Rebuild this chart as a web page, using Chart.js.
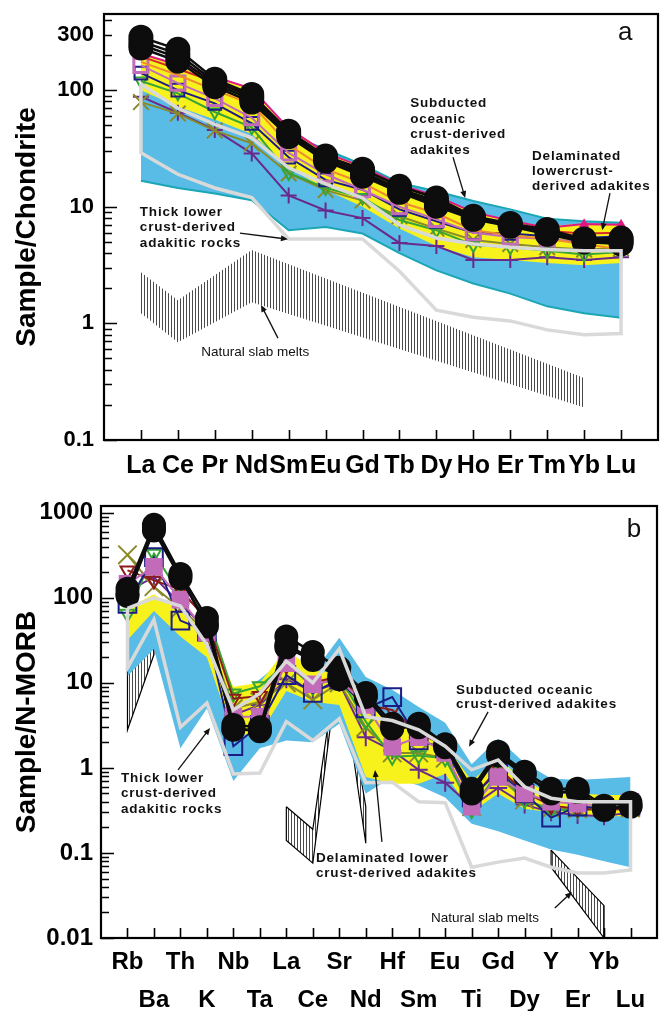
<!DOCTYPE html>
<html>
<head>
<meta charset="utf-8">
<title>REE and trace element diagrams</title>
<script src="https://cdn.jsdelivr.net/npm/chart.js@4.4.1/dist/chart.umd.min.js"></script>
<style>
  html, body { margin: 0; padding: 0; background: #fff; }
  #wrap { position: relative; width: 662px; height: 1011px; overflow: hidden; }
  canvas { position: absolute; left: 0; }
  #chartA { top: 0; }
  #chartB { top: 490px; }
</style>
</head>
<body>
<div id="wrap">
  <canvas id="chartA" width="662" height="490"></canvas>
  <canvas id="chartB" width="662" height="521"></canvas>
</div>
<script>
// ---------- Panel a: chondrite-normalised REE patterns ----------
const reeElements = ['La','Ce','Pr','Nd','Sm','Eu','Gd','Tb','Dy','Ho','Er','Tm','Yb','Lu'];
const reeTickValues = [0.1, 1, 10, 100, 300];
const reeTickLabels = ['0.1', '1', '10', '100', '300'];

// reference fields
const reeOceanicTop    = [105, 85, 70, 58, 42, 31, 23, 16, 13.6, 11.2, 9.5, 7.9, 7.5, 7.3];
const reeOceanicBottom = [16.7, 14.5, 13, 11.4, 6.3, 6.7, 5.9, 4.0, 2.85, 2.2, 1.8, 1.4, 1.22, 1.12];
const reeDelamTop      = [210, 165, 130, 100, 46, 29, 22, 15.5, 12.3, 9, 7.6, 6.8, 7.2, 7.0];
const reeDelamBottom   = [100, 72, 56, 42, 22, 14, 10, 6.5, 4.6, 3.7, 3.5, 3.3, 3.15, 3.3];
const reeThickTop      = [113, 70, 51, 39, 21.6, 15.7, 11.9, 7.0, 5.4, 4.8, 4.5, 4.3, 4.2, 4.2];
const reeThickBottom   = [29, 19, 14.5, 12, 5.3, 5.3, 5.3, 2.8, 1.3, 1.13, 1.05, 0.88, 0.8, 0.82];
const reeSlabAt        = ['La', 'Ce', 'Nd', 'Yb'];
const reeSlabTop       = [2.75, 1.58, 4.25, 0.34];
const reeSlabBottom    = [1.22, 0.69, 1.52, 0.19];

// samples
const reeBlack1  = [285, 224, 124, 92, 44.5, 27.2, 21, 15, 11.9, 8.3, 7.2, 6.4, 5.3, 5.4];
const reeBlack2  = [262, 205, 118, 88, 43, 26, 20, 14.2, 11.2, 8.1, 7.0, 6.1, 5.2, 5.2];
const reeBlack3  = [245, 190, 112, 84, 41.5, 25.4, 19, 13.8, 10.6, 7.9, 6.9, 5.9, 5.1, 5.0];
const reeBlack4  = [230, 177, 107, 79, 40, 24.6, 18.3, 13.3, 10.1, 7.8, 6.8, 5.8, 5.0, 4.8];
const reeMagenta = [205, 165, 130, 103, 47, 29, 22, 15.5, 12.3, 9, 7.6, 6.6, 7.1, 7.0];
const reeRed     = [195, 152, 118, 92, 41, 26, 20, 14, 11, 8.2, 6.9, 6.2, 5.9, 6.0];
const reeOrange  = [175, 135, 100, 76, 34, 21, 16, 11, 8.8, 6.3, 5.7, 5.3, 4.8, 4.3];
const reeOrchid  = [163, 115, 85, 58, 29, 19, 14, 10, 7.8, 6.0, 5.5, 5.3, 5.0, 5.2];
const reeNavy    = [140, 100, 77, 52, 26.6, 17, 14, 9.5, 7.5, 6.0, 5.9, 5.6, 5.4, 5.6];
const reeGreen   = [120, 94, 65, 48, 19.5, 14.5, 12, 7.7, 6.3, 4.7, 4.5, 4.2, 3.9, 4.1];
const reeOlive   = [79, 63, 45, 35, 19.3, 13.9, 11.3, 8.3, 6.5, 5.2, 4.8, 4.5, 4.3, 4.4];
const reePurple  = [88, 64, 45.6, 28.7, 12.5, 9.3, 8.0, 4.9, 4.6, 3.5, 3.5, 3.7, 3.5, 3.7];

// ---------- Panel b: N-MORB-normalised trace element patterns ----------
const spElements = ['Rb','Ba','Th','K','Nb','Ta','La','Ce','Sr','Nd','Hf','Sm','Eu','Ti','Gd','Dy','Y','Er','Yb','Lu'];
const spTickValues = [0.01, 0.1, 1, 10, 100, 1000];
const spTickLabels = ['0.01', '0.1', '1', '10', '100', '1000'];

const spOceanicTop    = [40, 90, 45, 22, 7, 11, 20, 13, 34, 11.7, 8.3, 5.2, 3.4, 1.1, 2.2, 1.14, 0.75, 0.72, 0.75, 0.78];
const spOceanicBottom = [12, 25, 1.7, 5.0, 0.7, 1.7, 2.1, 2.0, 3.3, 0.5, 0.78, 0.62, 0.45, 0.22, 0.18, 0.14, 0.11, 0.095, 0.08, 0.068];
const spDelamTop      = [75, 110, 70, 45, 9, 10, 25, 14, 13, 5.5, 3.5, 2.5, 1.9, 0.7, 1.3, 0.7, 0.5, 0.5, 0.48, 0.48];
const spDelamBottom   = [32, 70, 35, 20, 2.4, 2.5, 8, 6, 5.5, 0.78, 0.65, 0.65, 0.85, 0.3, 0.5, 0.33, 0.3, 0.28, 0.27, 0.27];
const spThickTop      = [75, 100, 80, 28, 4.8, 7.5, 18, 10, 25, 4.0, 3.6, 2.8, 1.8, 0.95, 1.24, 0.6, 0.44, 0.40, 0.40, 0.40];
const spThickBottom   = [15, 55, 3.0, 5.8, 0.85, 0.87, 3.5, 2.1, 3.8, 0.67, 0.68, 0.4, 0.39, 0.068, 0.078, 0.087, 0.068, 0.058, 0.058, 0.063];
const spSlabLeftAt    = ['Rb', 'Ba'];
const spSlabLeftTop   = [17, 47];
const spSlabLeftBot   = [2.8, 21.5];
const spSlabMidAt     = ['La', 'Ce', 'Sr', 'Nd'];
const spSlabMidTop    = [0.35, 0.19, 26, 0.35];
const spSlabMidBot    = [0.14, 0.076, 20, 0.13];
const spSlabRightAt   = ['Y', 'Yb'];
const spSlabRightTop  = [0.108, 0.024];
const spSlabRightBot  = [0.068, 0.01];

const spBlack1  = [128, 720, 190, 58, 3.2, 3.0, 35, 23, 15, 7.6, 3.3, 3.3, 1.9, 0.57, 1.55, 0.9, 0.57, 0.57, 0.36, 0.39];
const spBlack2  = [112, 620, 170, 50, 2.8, 2.8, 28, 19, 12, 6.8, 3.0, 3.0, 1.75, 0.52, 1.4, 0.82, 0.52, 0.52, 0.33, 0.35];
const spBlack3  = [105, 660, 180, 46, 2.9, 2.7, 26, 18.5, 11, 7.0, 2.9, 3.1, 1.8, 0.5, 1.45, 0.85, 0.5, 0.54, 0.32, 0.36];
const spOrchid  = [146, 232, 95, 39, 4.0, 4.0, 17, 9.6, 11, 5.5, 1.77, 2.3, 1.5, 0.35, 0.78, 0.5, 0.4, 0.38, 0.36, 0.4];
const spNavy    = [85, 300, 54, 40, 1.8, 3.2, 12.3, 7.6, 11, 5.0, 6.8, 2.1, 1.7, 0.45, 0.9, 0.5, 0.26, 0.35, 0.34, 0.36];
const spGreen   = [65, 330, 110, 65, 7.5, 9.1, 17, 9, 12, 3.5, 1.35, 1.4, 1.3, 0.32, 0.9, 0.42, 0.32, 0.32, 0.33, 0.35];
const spOlive   = [320, 135, 75, 40, 5, 6, 10, 6.3, 10, 3, 1.5, 1.5, 1.3, 0.35, 0.8, 0.42, 0.33, 0.33, 0.33, 0.34];
const spPurple  = [120, 175, 85, 42, 4.2, 5.5, 11, 8, 10, 2.3, 1.6, 0.95, 0.67, 0.35, 0.58, 0.37, 0.3, 0.28, 0.27, 0.3];
const spDarkRed = [210, 160, 125, 55, 6.5, 7.0, 16, 10, 12, 5.5, 4.8, 2.6, 1.8, 0.42, 1.0, 0.52, 0.36, 0.33, 0.32, 0.33];

// ---------- colours ----------
const BLUE = '#58bce6', TEAL = '#1aa6b4', YELLOW = '#f8f21c', GREY = '#d9d9d9';
const NONE = 'rgba(0,0,0,0)';
const FONT = 'Arial, "Liberation Sans", Helvetica, sans-serif';
Chart.defaults.font.family = FONT;
Chart.defaults.color = '#000';

// ---------- helpers ----------
const pts = vals => vals.map((v, i) => ({ x: i, y: v }));
const ptsAt = (names, list, vals) => names.map((n, j) => ({ x: list.indexOf(n), y: vals[j] }));
const loop = (top, bottom) => [...top, ...bottom.slice().reverse(), top[0]];

function hatchPattern() {
  const c = document.createElement('canvas');
  c.width = 3; c.height = 3;
  const g = c.getContext('2d');
  g.fillStyle = '#ffffff'; g.fillRect(0, 0, 3, 3);
  g.fillStyle = '#4a4a4a'; g.fillRect(0, 0, 1, 3);
  return g.createPattern(c, 'repeat');
}
const HATCH = hatchPattern();

function field(top, bottom, fillColor, edge, edgeWidth, order) {
  return [
    { data: top, fill: '+1', backgroundColor: fillColor, borderColor: edge, borderWidth: edgeWidth, pointRadius: 0, order },
    { data: bottom, fill: false, borderColor: edge, borderWidth: edgeWidth, pointRadius: 0, order: order - 0.5 }
  ];
}
function outline(data, color, width, order) {
  return { data, fill: false, borderColor: color, borderWidth: width, pointRadius: 0, order };
}
function sample(vals, color, style, radius, extra) {
  return Object.assign({
    data: pts(vals), fill: false, borderColor: color, borderWidth: 2,
    pointStyle: style, pointRadius: radius, pointBorderColor: color, pointBorderWidth: 2,
    pointBackgroundColor: NONE, order: 10
  }, extra || {});
}

// frame and inward tick marks
const frameTicks = {
  id: 'frameTicks',
  afterDraw(chart, args, o) {
    const { ctx, chartArea: a, scales: { x, y } } = chart;
    ctx.save();
    ctx.strokeStyle = '#000';
    ctx.lineWidth = 1.6;
    ctx.beginPath();
    for (let i = 0; i < o.count; i++) {
      const px = Math.round(x.getPixelForValue(i)) + 0.5;
      ctx.moveTo(px, a.bottom); ctx.lineTo(px, a.bottom - 10);
    }
    const lo = Math.floor(Math.log10(y.min)), hi = Math.ceil(Math.log10(y.max));
    for (let e = lo; e <= hi; e++) {
      for (let m = 1; m <= 9; m++) {
        const v = m * Math.pow(10, e);
        if (v < y.min * 0.999 || v > y.max) continue;
        const py = Math.round(y.getPixelForValue(v)) + 0.5;
        ctx.moveTo(a.left, py); ctx.lineTo(a.left + (m === 1 ? 13 : 8), py);
      }
    }
    ctx.stroke();
    ctx.lineWidth = 2.2;
    ctx.strokeRect(a.left, a.top, a.right - a.left, a.bottom - a.top);
    ctx.restore();
  }
};

// text labels and arrows placed in data coordinates
const notes = {
  id: 'notes',
  afterDraw(chart, args, o) {
    const { ctx, scales: { x, y } } = chart;
    ctx.save();
    ctx.fillStyle = '#111';
    ctx.textBaseline = 'middle';
    ctx.textAlign = 'left';
    for (const t of o.texts) {
      ctx.font = t.font;
      if ('letterSpacing' in ctx) ctx.letterSpacing = t.spacing || '0px';
      const px = x.getPixelForValue(t.at[0]);
      const py = y.getPixelForValue(t.at[1]);
      t.lines.forEach((s, k) => ctx.fillText(s, px, py + k * (t.gap || 0)));
    }
    if ('letterSpacing' in ctx) ctx.letterSpacing = '0px';
    ctx.strokeStyle = '#111';
    ctx.lineWidth = 1.3;
    for (const ar of o.arrows) {
      const x0 = x.getPixelForValue(ar.from[0]), y0 = y.getPixelForValue(ar.from[1]);
      const x1 = x.getPixelForValue(ar.to[0]), y1 = y.getPixelForValue(ar.to[1]);
      const ang = Math.atan2(y1 - y0, x1 - x0);
      const hl = 7, hw = 3;
      ctx.beginPath();
      ctx.moveTo(x0, y0);
      ctx.lineTo(x1 - Math.cos(ang) * hl * 0.8, y1 - Math.sin(ang) * hl * 0.8);
      ctx.stroke();
      ctx.beginPath();
      ctx.moveTo(x1, y1);
      ctx.lineTo(x1 - Math.cos(ang) * hl - Math.sin(ang) * hw, y1 - Math.sin(ang) * hl + Math.cos(ang) * hw);
      ctx.lineTo(x1 - Math.cos(ang) * hl + Math.sin(ang) * hw, y1 - Math.sin(ang) * hl - Math.cos(ang) * hw);
      ctx.closePath();
      ctx.fill();
    }
    ctx.restore();
  }
};

const BOLD_NOTE = 'bold 13.5px ' + FONT;
const PLAIN_NOTE = '13.5px ' + FONT;

const textsA = [
  { lines: ['Subducted', 'oceanic', 'crust-derived', 'adakites'], at: [7.29, 77], gap: 15.5, font: BOLD_NOTE, spacing: '0.8px' },
  { lines: ['Delaminated', 'lowercrust-', 'derived adakites'], at: [10.59, 27.2], gap: 15, font: BOLD_NOTE, spacing: '0.8px' },
  { lines: ['Thick lower', 'crust-derived', 'adakitic rocks'], at: [-0.03, 9.0], gap: 15.5, font: BOLD_NOTE, spacing: '0.8px' },
  { lines: ['Natural slab melts'], at: [1.63, 0.568], font: PLAIN_NOTE },
  { lines: ['a'], at: [12.92, 308], font: '26px ' + FONT }
];
const arrowsA = [
  { from: [8.45, 26.6], to: [8.78, 11.9] },
  { from: [12.70, 13.1], to: [12.49, 6.3] },
  { from: [2.68, 5.94], to: [3.98, 5.27] },
  { from: [3.71, 0.748], to: [3.25, 1.44] }
];
const textsB = [
  { lines: ['Subducted oceanic', 'crust-derived adakites'], at: [12.41, 8.28], gap: 14.5, font: BOLD_NOTE, spacing: '0.8px' },
  { lines: ['Thick lower', 'crust-derived', 'adakitic rocks'], at: [-0.245, 0.76], gap: 15.5, font: BOLD_NOTE, spacing: '0.8px' },
  { lines: ['Delaminated lower', 'crust-derived adakites'], at: [7.12, 0.087], gap: 15, font: BOLD_NOTE, spacing: '0.8px' },
  { lines: ['Natural slab melts'], at: [11.46, 0.0172], font: PLAIN_NOTE },
  { lines: ['b'], at: [18.86, 631], font: '26px ' + FONT }
];
const arrowsB = [
  { from: [13.62, 4.56], to: [12.9, 1.77] },
  { from: [1.91, 0.946], to: [3.12, 2.95] },
  { from: [9.61, 0.135], to: [9.35, 0.946] },
  { from: [16.14, 0.0225], to: [16.79, 0.0348] }
];

function axes(cfg) {
  return {
    x: {
      type: 'linear', min: -1, max: cfg.names.length,
      grid: { display: false, drawTicks: false }, border: { display: false },
      afterBuildTicks: s => { s.ticks = cfg.names.map((_, i) => ({ value: i })); },
      ticks: {
        autoSkip: false, maxRotation: 0, minRotation: 0, padding: cfg.xPad,
        font: { size: cfg.xFont, weight: 'bold', lineHeight: cfg.xLineHeight },
        callback: cfg.xLabel
      },
      afterFit: s => { s.height = cfg.xHeight; s.paddingLeft = 0; s.paddingRight = 0; }
    },
    y: {
      type: 'logarithmic', min: cfg.yMin, max: cfg.yMax,
      grid: { display: false, drawTicks: false }, border: { display: false },
      afterBuildTicks: s => { s.ticks = cfg.tickValues.map(v => ({ value: v })); },
      ticks: {
        padding: cfg.yPad, font: { size: cfg.yFont, weight: 'bold' },
        callback: v => { const k = cfg.tickValues.indexOf(v); return k >= 0 ? cfg.tickLabels[k] : ''; }
      },
      title: { display: true, text: cfg.title, font: { size: 28, weight: 'bold' }, padding: { top: 10, bottom: 0 } },
      afterFit: s => { s.width = cfg.yWidth; s.paddingTop = 0; s.paddingBottom = 0; }
    }
  };
}

// ---------- Panel a ----------
const datasetsA = [
  outline(loop(pts(reeThickTop), pts(reeThickBottom)), GREY, 3.5, 0),
  sample(reeBlack1, '#0d0d0d', 'circle', 11.5, { pointBackgroundColor: '#0d0d0d', borderWidth: 2.5, order: 1 }),
  sample(reeBlack2, '#0d0d0d', 'circle', 11.5, { pointBackgroundColor: '#0d0d0d', borderWidth: 2.5, order: 1 }),
  sample(reeBlack3, '#0d0d0d', 'circle', 11.5, { pointBackgroundColor: '#0d0d0d', borderWidth: 2.5, order: 1 }),
  sample(reeBlack4, '#0d0d0d', 'circle', 11.5, { pointBackgroundColor: '#0d0d0d', borderWidth: 2.5, order: 1 }),
  sample(reeMagenta, '#e0197f', 'triangle', 4, { pointBackgroundColor: '#e0197f', order: 3 }),
  sample(reeRed, '#d42a2a', 'triangle', 0, { order: 4 }),
  sample(reeOrange, '#f08a2c', 'circle', 0, { order: 4 }),
  sample(reeOrchid, '#c26bb9', 'rect', 10, { pointBorderWidth: 3, order: 5 }),
  sample(reeNavy, '#1c1c86', 'rect', 9, { order: 5 }),
  sample(reeGreen, '#35a535', 'triangle', 7, { pointRotation: 180, order: 6 }),
  sample(reeOlive, '#8a8a2a', 'crossRot', 11, { order: 6 }),
  sample(reePurple, '#6a2a8c', 'cross', 8, { order: 6 }),
  ...field(pts(reeDelamTop), pts(reeDelamBottom), YELLOW, NONE, 0, 30),
  ...field(pts(reeOceanicTop), pts(reeOceanicBottom), BLUE, TEAL, 2, 40),
  ...field(ptsAt(reeSlabAt, reeElements, reeSlabTop), ptsAt(reeSlabAt, reeElements, reeSlabBottom), HATCH, NONE, 0, 50)
];

new Chart(document.getElementById('chartA'), {
  type: 'line',
  data: { datasets: datasetsA },
  options: {
    responsive: false, animation: false, devicePixelRatio: 1,
    layout: { autoPadding: false, padding: { left: 0, top: 14, right: 4, bottom: 0 } },
    elements: { line: { tension: 0 } },
    plugins: {
      legend: { display: false }, tooltip: { enabled: false },
      frameTicks: { count: reeElements.length },
      notes: { texts: textsA, arrows: arrowsA }
    },
    scales: axes({
      names: reeElements, xPad: 11, xFont: 25, xLineHeight: 1.2, xHeight: 50,
      xLabel: v => reeElements[v] ?? '',
      yMin: 0.1, yMax: 450, tickValues: reeTickValues, tickLabels: reeTickLabels,
      yPad: 10, yFont: 22, yWidth: 104, title: 'Sample/Chondrite'
    })
  },
  plugins: [frameTicks, notes]
});

// ---------- Panel b ----------
const datasetsB = [
  outline(loop(pts(spThickTop), pts(spThickBottom)), GREY, 3.5, 0),
  sample(spBlack1, '#0d0d0d', 'circle', 11, { pointBackgroundColor: '#0d0d0d', borderWidth: 2.5, order: 1 }),
  sample(spBlack2, '#0d0d0d', 'circle', 11, { pointBackgroundColor: '#0d0d0d', borderWidth: 2.5, order: 1 }),
  sample(spBlack3, '#0d0d0d', 'circle', 11, { pointBackgroundColor: '#0d0d0d', borderWidth: 2.5, order: 1 }),
  sample(spOrchid, '#c26bb9', 'rect', 11, { pointBackgroundColor: '#c26bb9', order: 4 }),
  sample(spNavy, '#1c1c86', 'rect', 12.5, { order: 5 }),
  sample(spDarkRed, '#8e1b1b', 'triangle', 8, { pointRotation: 180, order: 6 }),
  sample(spGreen, '#35a535', 'triangle', 8, { pointRotation: 180, order: 6 }),
  sample(spOlive, '#8a8a2a', 'crossRot', 13, { order: 6 }),
  sample(spPurple, '#6a2a8c', 'cross', 9, { order: 6 }),
  ...field(pts(spDelamTop), pts(spDelamBottom), YELLOW, NONE, 0, 30),
  ...field(pts(spOceanicTop), pts(spOceanicBottom), BLUE, NONE, 0, 40),
  outline(loop(ptsAt(spSlabLeftAt, spElements, spSlabLeftTop), ptsAt(spSlabLeftAt, spElements, spSlabLeftBot)), '#000', 1.2, 44),
  ...field(ptsAt(spSlabLeftAt, spElements, spSlabLeftTop), ptsAt(spSlabLeftAt, spElements, spSlabLeftBot), HATCH, NONE, 0, 50),
  outline(loop(ptsAt(spSlabMidAt, spElements, spSlabMidTop), ptsAt(spSlabMidAt, spElements, spSlabMidBot)), '#000', 1.2, 44),
  ...field(ptsAt(spSlabMidAt, spElements, spSlabMidTop), ptsAt(spSlabMidAt, spElements, spSlabMidBot), HATCH, NONE, 0, 50),
  outline(loop(ptsAt(spSlabRightAt, spElements, spSlabRightTop), ptsAt(spSlabRightAt, spElements, spSlabRightBot)), '#000', 1.2, 44),
  ...field(ptsAt(spSlabRightAt, spElements, spSlabRightTop), ptsAt(spSlabRightAt, spElements, spSlabRightBot), HATCH, NONE, 0, 50)
];

new Chart(document.getElementById('chartB'), {
  type: 'line',
  data: { datasets: datasetsB },
  options: {
    responsive: false, animation: false, devicePixelRatio: 1,
    layout: { autoPadding: false, padding: { left: 0, top: 16, right: 5, bottom: 0 } },
    elements: { line: { tension: 0 } },
    plugins: {
      legend: { display: false }, tooltip: { enabled: false },
      frameTicks: { count: spElements.length },
      notes: { texts: textsB, arrows: arrowsB }
    },
    scales: axes({
      names: spElements, xPad: 5, xFont: 24, xLineHeight: 1.6, xHeight: 73,
      xLabel: v => (spElements[v] === undefined ? '' : (v % 2 === 0 ? [spElements[v], ''] : ['', spElements[v]])),
      yMin: 0.01, yMax: 1200, tickValues: spTickValues, tickLabels: spTickLabels,
      yPad: 8, yFont: 24, yWidth: 101, title: 'Sample/N-MORB'
    })
  },
  plugins: [frameTicks, notes]
});
</script>
</body>
</html>
